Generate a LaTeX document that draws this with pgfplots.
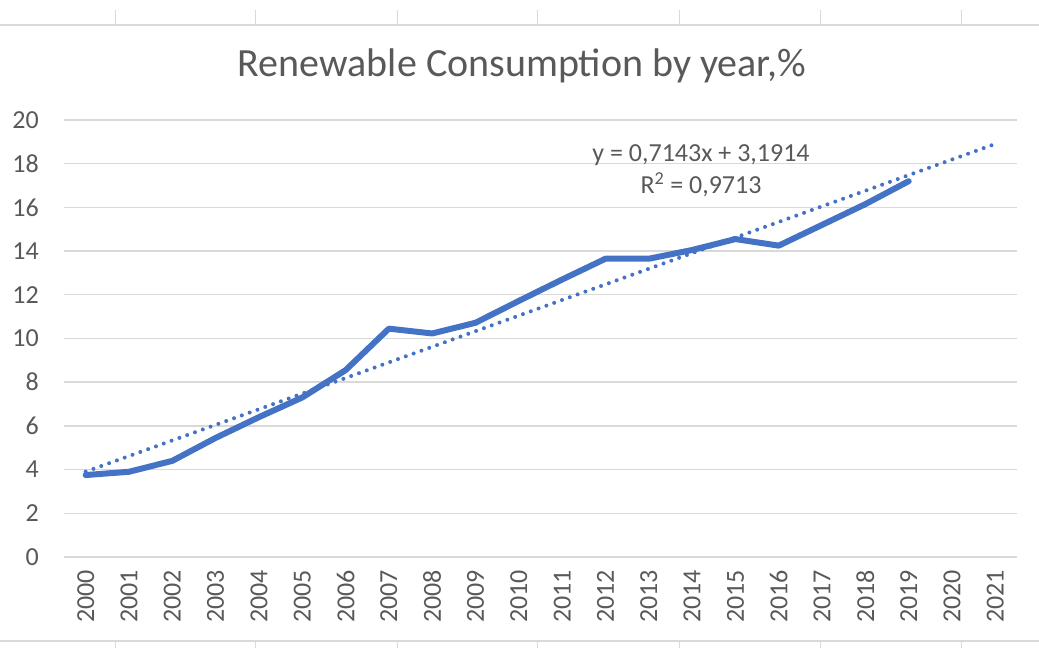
\documentclass[border=0pt]{standalone}
\usepackage{pgfplots}
\pgfplotsset{compat=1.18}
\usepackage{fontspec}
\setmainfont{Carlito}
\definecolor{txt}{HTML}{595959}
\definecolor{grd}{HTML}{D9D9D9}
\definecolor{ser}{HTML}{4472C4}
\begin{document}
\begin{tikzpicture}
\path[use as bounding box] (0,0) rectangle (1039pt,648pt);
% spreadsheet cell borders in the background
\draw[grd, line width=1.2pt] (0,623pt) -- (1039pt,623pt);
\draw[grd, line width=1.2pt] (0,7pt) -- (1039pt,7pt);
\foreach \xx in {115,255,397,537,679,820,961}{
  \draw[grd, line width=1pt] (\xx pt,623pt) -- (\xx pt,638pt);
  \draw[grd, line width=1pt] (\xx pt,7pt) -- (\xx pt,0pt);
}
\begin{axis}[
  at={(64pt,91pt)}, anchor=south west,
  scale only axis, width=953pt, height=437pt,
  xmin=-0.5, xmax=21.5, ymin=0, ymax=20,
  ytick={0,2,...,20},
  xtick={0,...,21},
  xticklabels={2000,2001,2002,2003,2004,2005,2006,2007,2008,2009,2010,2011,2012,2013,2014,2015,2016,2017,2018,2019,2020,2021},
  major tick length=0pt,
  axis line style={draw=none},
  ymajorgrids, grid style={grd, line width=1.4pt},
  tick label style={font=\fontsize{26}{30}\selectfont, text=txt, inner sep=0pt},
  x tick label style={rotate=90, anchor=east},
  y tick label style={anchor=east},
  xticklabel shift=13pt,
  yticklabel shift=25pt,
  /pgf/number format/assume math mode=true,
  clip=false,
]
\addplot[ser, line width=6pt, line join=round, line cap=round] coordinates {
(0,3.75) (1,3.9) (2,4.4) (3,5.45) (4,6.4) (5,7.3) (6,8.55) (7,10.45) (8,10.23) (9,10.72)
(10,11.72) (11,12.7) (12,13.65) (13,13.65) (14,14.05) (15,14.55) (16,14.25) (17,15.2) (18,16.15) (19,17.2)
};
\addplot[ser, line width=4pt, line cap=round, dash pattern=on 0pt off 8.3pt] coordinates {(0,3.9057) (21,18.906)};
\end{axis}
\node[anchor=base, text=txt, inner sep=0pt, font=\fontsize{40}{48}\selectfont] at (522pt,571pt) {Renewable Consumption by year,\%};
\node[anchor=base, text=txt, inner sep=0pt, font=\fontsize{26}{30}\selectfont] at (701pt,486pt) {y = 0,7143x + 3,1914};
\node[anchor=base, text=txt, inner sep=0pt, font=\fontsize{26}{30}\selectfont] at (701pt,454pt) {R\textsuperscript{2} = 0,9713};
\end{tikzpicture}
\end{document}
